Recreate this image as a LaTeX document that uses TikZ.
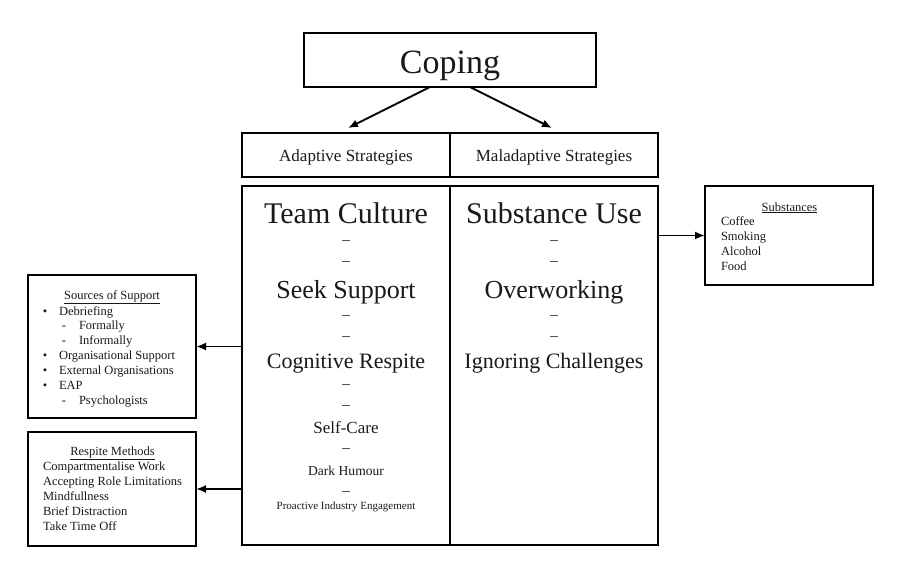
\documentclass[tikz,border=0pt]{standalone}
\usepackage{fontspec}
\setmainfont{Liberation Serif}
\usetikzlibrary{arrows.meta,calc}
\newcommand{\fs}[1]{\fontsize{#1}{#1}\selectfont}
\begin{document}
\begin{tikzpicture}[x=1pt,y=-1pt,
  box/.style={draw, line width=2.6pt, inner sep=0pt, outer sep=0pt},
  txt/.style={anchor=base, inner sep=0pt, outer sep=0pt, text=black!90},
  ltxt/.style={txt, anchor=base west},
  dsh/.style={txt, font=\fs{15}},
  sm/.style={ltxt, font=\fs{12.5}},
  arr/.style={-{Latex[length=10pt,width=8pt]}, line width=1.9pt}]
\useasboundingbox (0,0) rectangle (900,579);

% boxes
\node[box, minimum width=292, minimum height=54] (coping) at (450,60) {};
\node[box, minimum width=208, minimum height=44] (adapt) at (346,155) {};
\node[box, minimum width=208, minimum height=44] (malad) at (554,155) {};
\node[box, line width=2.4pt, minimum width=208, minimum height=359] (mainL) at (346,365.5) {};
\node[box, line width=2.4pt, minimum width=208, minimum height=359] (mainR) at (554,365.5) {};
\node[box, minimum width=168, minimum height=99] (subs) at (789,235.5) {};
\node[box, minimum width=168, minimum height=143] (src) at (112,346.5) {};
\node[box, minimum width=168, minimum height=114] (resp) at (112,489) {};

% connectors
\coordinate (ca) at (348,128);
\coordinate (cm) at (552,128);
\draw[arr] ($(coping.south)+(-20,0)$) -- (ca);
\draw[arr] ($(coping.south)+(20,0)$) -- (cm);
\draw[arr] (mainL.west |- src.east) -- (src.east);
\draw[arr] (mainL.west |- resp.east) -- (resp.east);
\draw[arr] (mainR.east |- subs.west) -- (subs.west);

% titles
\node[txt, font=\fs{34}] (tcoping) at (450,73) {Coping};
\node[txt, font=\fs{17}] (tadapt) at (346,161) {Adaptive Strategies};
\node[txt, font=\fs{17}] (tmalad) at (554,161) {Maladaptive Strategies};

% left column
\node[txt, font=\fs{30}] (l1) at (346,223) {Team Culture};
\node[dsh] (ld1) at (346,244.5) {–};
\node[dsh] (ld2) at (346,265.5) {–};
\node[txt, font=\fs{26}] (l2) at (346,298) {Seek Support};
\node[dsh] (ld3) at (346,319.5) {–};
\node[dsh] (ld4) at (346,340.5) {–};
\node[txt, font=\fs{22}] (l3) at (346,368) {Cognitive Respite};
\node[dsh] (ld5) at (346,388.5) {–};
\node[dsh] (ld6) at (346,409.5) {–};
\node[txt, font=\fs{17}] (l4) at (346,433) {Self-Care};
\node[dsh] (ld7) at (346,452.5) {–};
\node[txt, font=\fs{13.6}] (l5) at (346,475) {Dark Humour};
\node[dsh] (ld8) at (346,495.5) {–};
\node[txt, font=\fs{11}] (l6) at (346,509) {Proactive Industry Engagement};

% right column
\node[txt, font=\fs{30}] (r1) at (554,223) {Substance Use};
\node[dsh] (rd1) at (554,244.5) {–};
\node[dsh] (rd2) at (554,265.5) {–};
\node[txt, font=\fs{26}] (r2) at (554,298) {Overworking};
\node[dsh] (rd3) at (554,319.5) {–};
\node[dsh] (rd4) at (554,340.5) {–};
\node[txt, font=\fs{22}] (r3) at (554,368) {Ignoring Challenges};

% substances
\node[txt, font=\fs{12.5}] (sh) at (789.5,211) {\underline{Substances}};
\node[sm] (s1) at (721,225.5) {Coffee};
\node[sm] (s2) at (721,240.5) {Smoking};
\node[sm] (s3) at (721,255.5) {Alcohol};
\node[sm] (s4) at (721,270.5) {Food};

% sources of support
\node[txt, font=\fs{12.5}] (srh) at (112,299) {\underline{Sources of Support}};
\node[txt, font=\fs{12.5}] (b1) at (45,315) {•};
\node[sm] (o1) at (59,315) {Debriefing};
\node[txt, font=\fs{12.5}] (h1) at (64,329.5) {-};
\node[sm] (o2) at (79,329.5) {Formally};
\node[txt, font=\fs{12.5}] (h2) at (64,344.5) {-};
\node[sm] (o3) at (79,344.5) {Informally};
\node[txt, font=\fs{12.5}] (b2) at (45,359.5) {•};
\node[sm] (o4) at (59,359.5) {Organisational Support};
\node[txt, font=\fs{12.5}] (b3) at (45,374.5) {•};
\node[sm] (o5) at (59,374.5) {External Organisations};
\node[txt, font=\fs{12.5}] (b4) at (45,389.5) {•};
\node[sm] (o6) at (59,389.5) {EAP};
\node[txt, font=\fs{12.5}] (h3) at (64,404.5) {-};
\node[sm] (o7) at (79,404.5) {Psychologists};

% respite methods
\node[txt, font=\fs{12.5}] (rh) at (112.5,455) {\underline{Respite Methods}};
\node[sm] (m1) at (43,470) {Compartmentalise Work};
\node[sm] (m2) at (43,485) {Accepting Role Limitations};
\node[sm] (m3) at (43,500) {Mindfullness};
\node[sm] (m4) at (43,515) {Brief Distraction};
\node[sm] (m5) at (43,530) {Take Time Off};
\end{tikzpicture}
\end{document}
